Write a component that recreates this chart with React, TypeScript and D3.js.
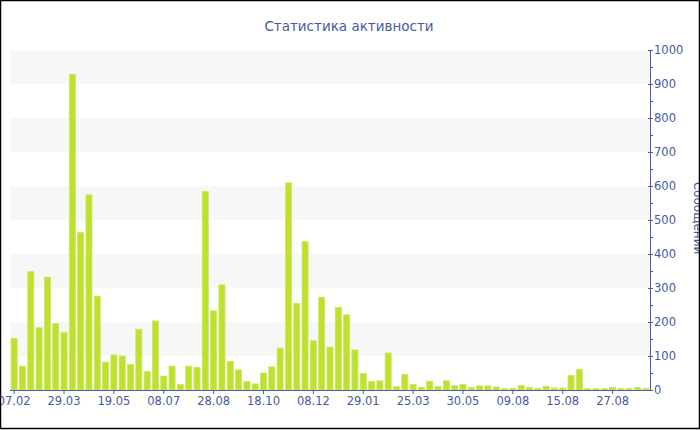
import React from "react";
import * as d3 from "d3";

const title = "Статистика активности";
const yAxisTitle = "Сообщений";
const values = [
  152, 70, 348, 183, 332, 195, 169, 928, 463, 574, 276, 82, 103, 100, 75, 179,
  55, 203, 41, 70, 16, 70, 67, 584, 233, 309, 84, 59, 25, 18, 50, 68, 123, 609,
  255, 436, 145, 273, 126, 243, 221, 118, 48, 25, 27, 109, 10, 46, 16, 8, 26,
  10, 27, 13, 17, 8, 12, 12, 9, 4, 5, 13, 8, 5, 11, 6, 6, 43, 60, 4, 4, 4, 7, 4,
  4, 7, 5,
];
const categories = values.map((_, i) => i);
const tickLabels = [
  "07.02", "29.03", "19.05", "08.07", "28.08", "18.10", "08.12", "29.01",
  "25.03", "30.05", "09.08", "15.08", "27.08",
];
const tickStep = 6;
const yMax = 1000;

const W = 700;
const H = 430;
const left = 10;
const right = 650;
const top = 50;
const bottom = 390;
const FONT = "'DejaVu Sans', Verdana, sans-serif";
const BLUE = "#4560a8";
const TEXT = "#46599f";

export default function App() {
  const x = d3
    .scaleBand<number>()
    .domain(categories)
    .range([left, right])
    .paddingInner(0.27)
    .paddingOuter(0.135);
  const y = d3.scaleLinear().domain([0, yMax]).range([bottom, top]);
  const majors = d3.range(0, yMax + 1, 100);
  const minors = d3.range(50, yMax, 100);
  const bands = d3.range(100, yMax, 200);

  return (
    <svg
      width={W}
      height={H}
      style={{ position: "absolute", left: 0, top: 0 }}
      fontFamily={FONT}
    >
      <rect x={0} y={0} width={W} height={H} fill="#fff" />
      {bands.map((b) => (
        <rect
          key={b}
          x={left}
          y={y(b + 100)}
          width={right - left}
          height={y(b) - y(b + 100)}
          fill="#f7f7f7"
        />
      ))}
      {values.map((v, i) => (
        <rect
          key={i}
          x={x(categories[i])!}
          y={y(v)}
          width={x.bandwidth()}
          height={bottom - y(v)}
          fill="#bde12e"
          stroke="#cbe862"
          strokeWidth={0.8}
        />
      ))}
      {/* x axis */}
      <line x1={left} x2={right} y1={bottom + 0.5} y2={bottom + 0.5} stroke={BLUE} />
      {tickLabels.map((t, k) => {
        const cx = x(categories[k * tickStep])! + x.bandwidth() / 2;
        return (
          <g key={t}>
            <line x1={cx} x2={cx} y1={bottom} y2={bottom + 4} stroke={BLUE} />
            <text
              x={cx}
              y={405}
              textAnchor="middle"
              fontSize={11.5}
              fill={TEXT}
            >
              {t}
            </text>
          </g>
        );
      })}
      {/* y axis */}
      <line x1={right + 0.5} x2={right + 0.5} y1={top} y2={bottom + 1} stroke={BLUE} />
      {minors.map((m) => (
        <line
          key={m}
          x1={right}
          x2={right + 3}
          y1={Math.round(y(m)) + 0.5}
          y2={Math.round(y(m)) + 0.5}
          stroke={BLUE}
        />
      ))}
      {majors.map((m) => (
        <g key={m}>
          <line
            x1={right - 2}
            x2={right + 3}
            y1={Math.round(y(m)) + 0.5}
            y2={Math.round(y(m)) + 0.5}
            stroke={BLUE}
          />
          <text
            x={right + 4}
            y={y(m) + 4}
            fontSize={11.5}
            fill={TEXT}
          >
            {m}
          </text>
        </g>
      ))}
      <text
        transform={`translate(694, ${(top + bottom) / 2 - 2}) rotate(90)`}
        textAnchor="middle"
        fontSize={12}
        fill={TEXT}
      >
        {yAxisTitle}
      </text>
      <text
        x={349}
        y={30.5}
        textAnchor="middle"
        fontSize={13.5}
        fill={TEXT}
      >
        {title}
      </text>
      <rect
        x={0.5}
        y={0.5}
        width={699}
        height={428}
        fill="none"
        stroke="#000"
        strokeWidth={1.5}
      />
    </svg>
  );
}
